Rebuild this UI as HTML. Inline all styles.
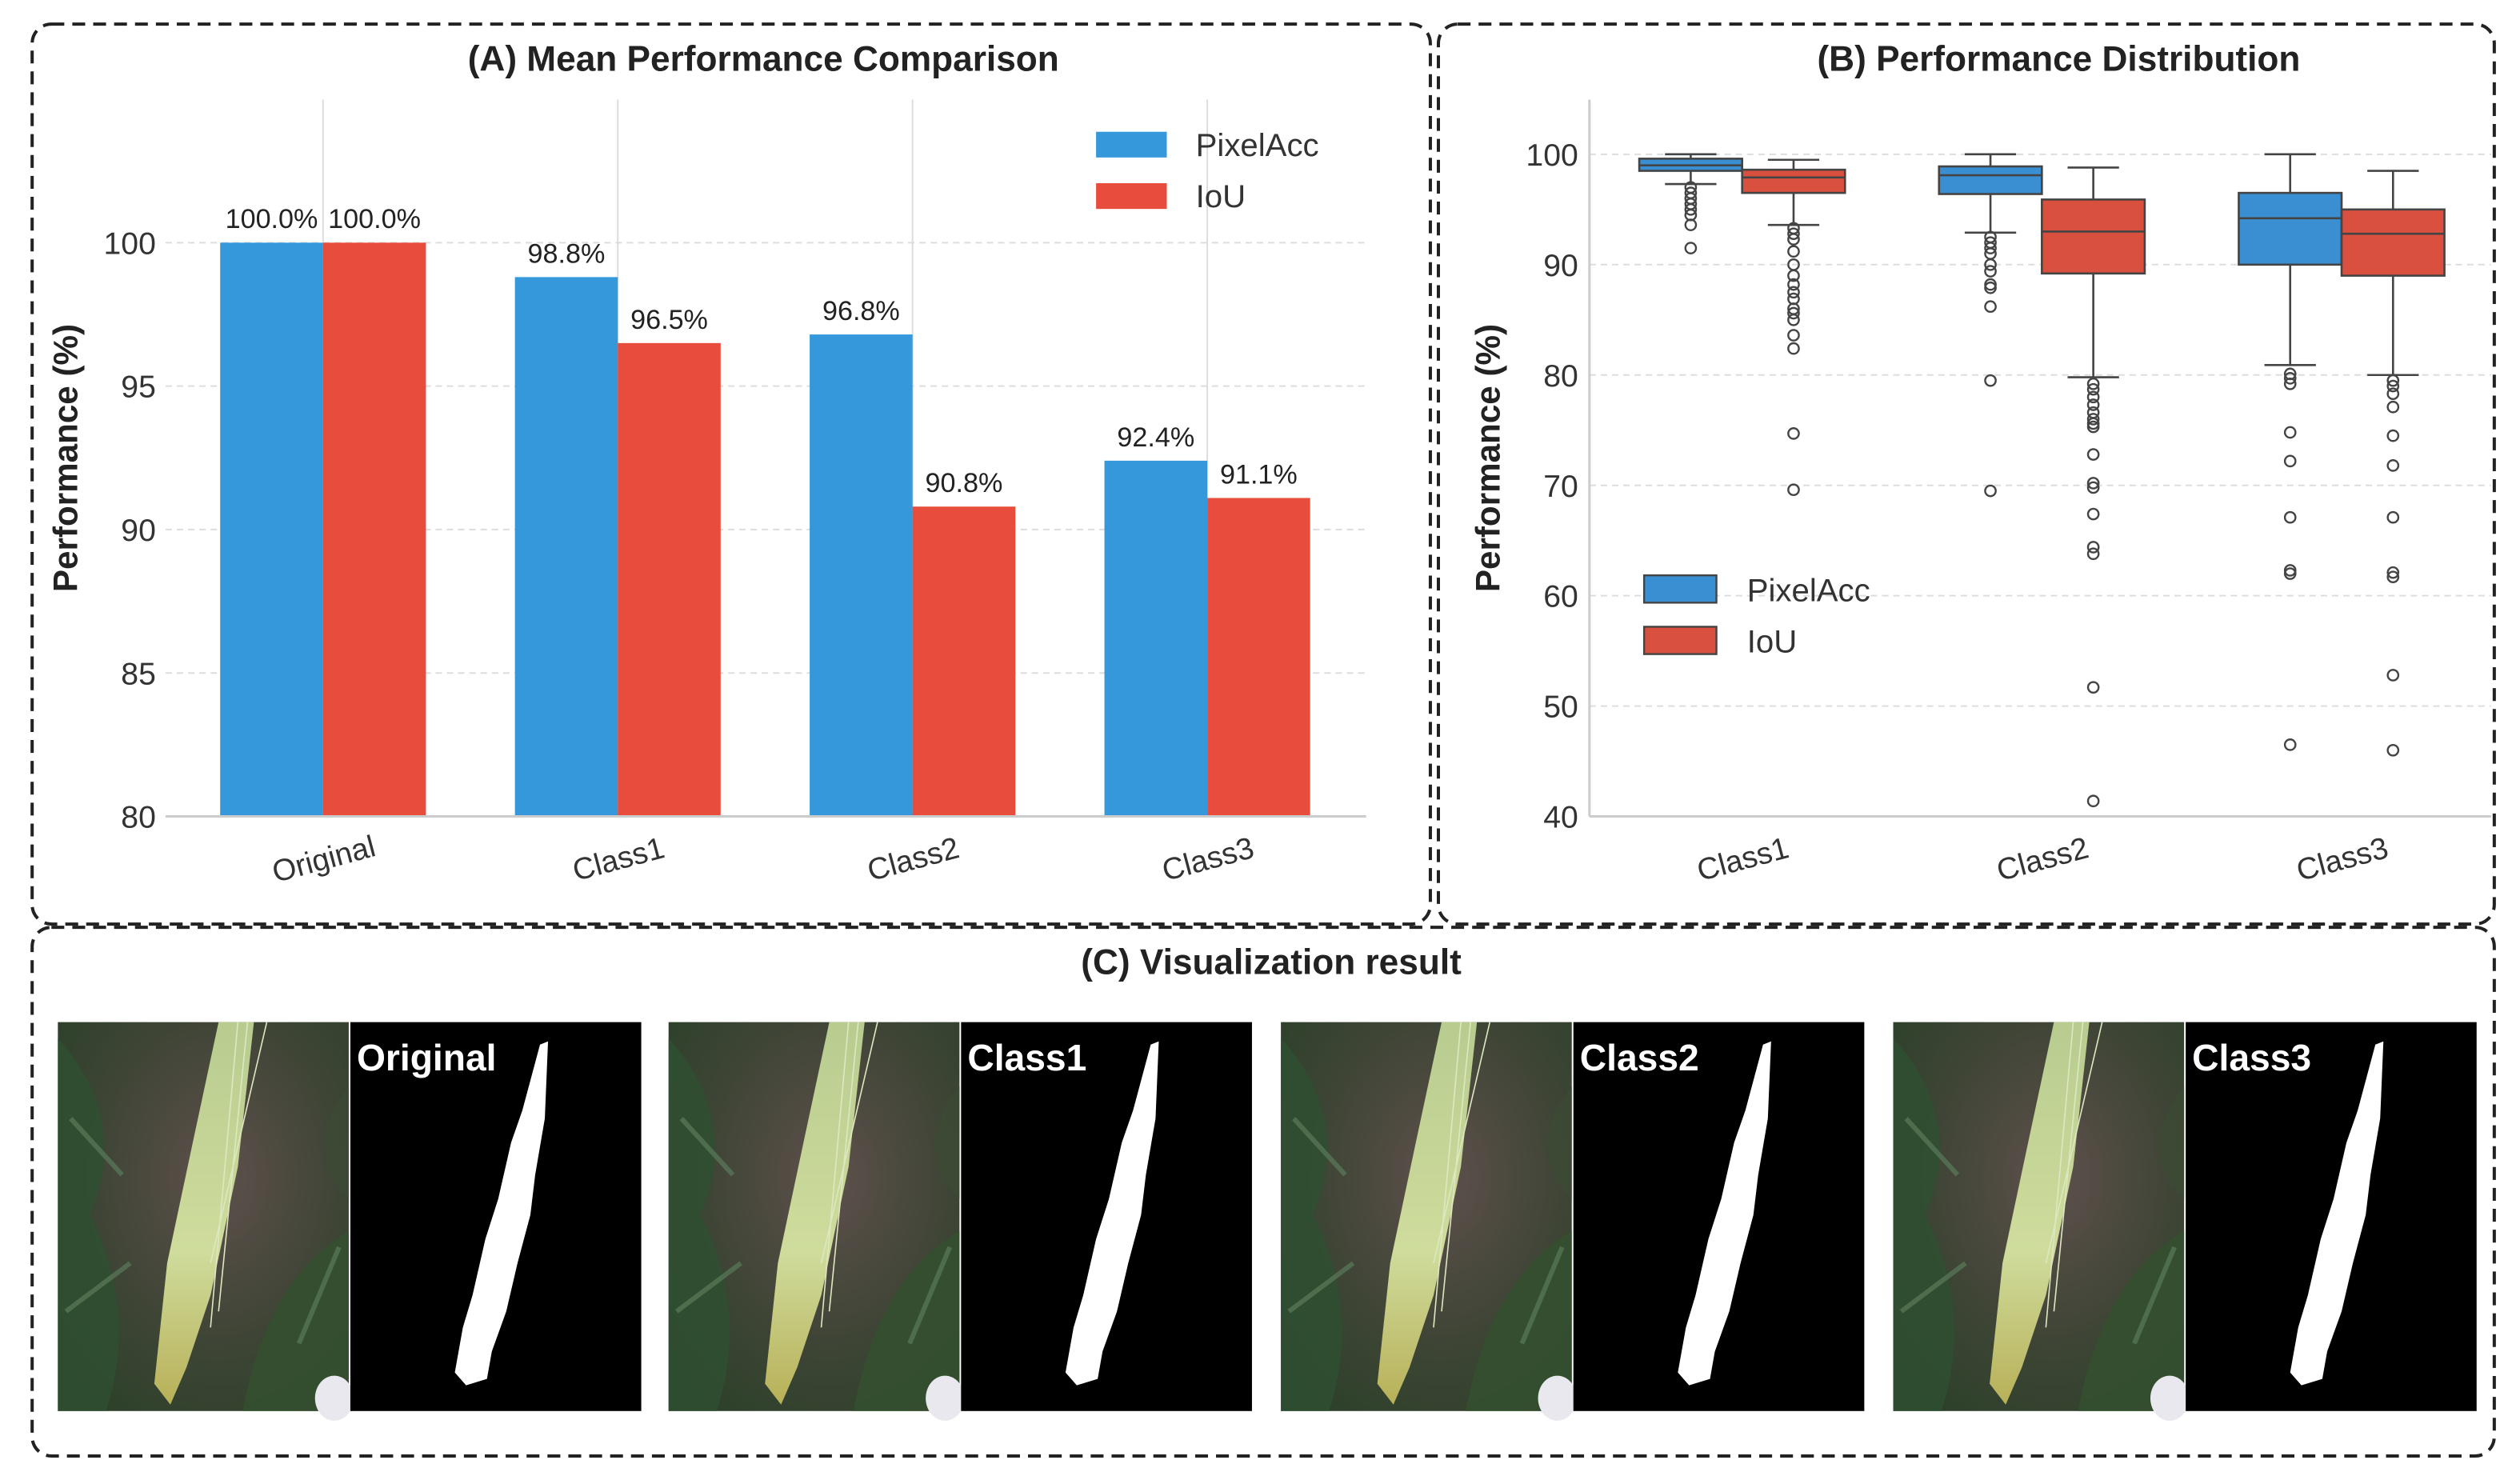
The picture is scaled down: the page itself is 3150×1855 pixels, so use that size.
<!DOCTYPE html>
<html><head><meta charset="utf-8">
<style>
html,body{margin:0;padding:0;background:#fff;}
svg{display:block;font-family:"Liberation Sans",Arial,sans-serif;}
</style></head>
<body>
<svg id="root" width="3150" height="1855" viewBox="0 0 1568 923.4" preserveAspectRatio="none" xmlns="http://www.w3.org/2000/svg">
<defs>
<radialGradient id="bgphoto" cx="55%" cy="40%" r="75%">
<stop offset="0" stop-color="#5e504c"/><stop offset="0.55" stop-color="#3f4536"/><stop offset="1" stop-color="#2a4028"/>
</radialGradient>
<linearGradient id="spike" x1="0" y1="0" x2="0" y2="1">
<stop offset="0" stop-color="#b8cc90"/><stop offset="0.6" stop-color="#cfdc9c"/><stop offset="1" stop-color="#b8b058"/>
</linearGradient>
</defs>
<g>
<rect x="20" y="15" width="870" height="560" rx="12" fill="none" stroke="#222" stroke-width="2" stroke-dasharray="8 5"/>
</g>
<g>
<rect x="895" y="15" width="657" height="560" rx="12" fill="none" stroke="#222" stroke-width="2" stroke-dasharray="8 5"/>
</g>
<g>
<rect x="20" y="577" width="1532" height="329" rx="12" fill="none" stroke="#222" stroke-width="2" stroke-dasharray="8 5"/>
</g>
<text x="475" y="44" text-anchor="middle" font-size="22" font-weight="bold" fill="#222">(A) Mean Performance Comparison</text>
<text x="1281" y="44" text-anchor="middle" font-size="22" font-weight="bold" fill="#222">(B) Performance Distribution</text>
<text x="791" y="606" text-anchor="middle" font-size="22" font-weight="bold" fill="#222">(C) Visualization result</text>
<g id="chartA"></g>
<g id="chartB"></g>
<g id="viz"></g>
</svg>
<script>
const NS="http://www.w3.org/2000/svg";
// ---- Chart A data ----
const barCategories=["Original","Class1","Class2","Class3"];
const pixelAccMeans=[100.0,98.8,96.8,92.4];
const iouMeans=[100.0,96.5,90.8,91.1];
const barTicks=[80,85,90,95,100];
// ---- Chart B data ----
const boxCategories=["Class1","Class2","Class3"];
// [lowWhisker,Q1,median,Q3,highWhisker]
const pixelAccBoxes=[[97.3,98.5,99.0,99.6,100],[92.9,96.4,98.1,98.9,100],[80.9,90.0,94.2,96.5,100]];
const iouBoxes=[[93.6,96.5,97.9,98.6,99.5],[79.8,89.2,93.0,95.9,98.8],[80.0,89.0,92.8,95.0,98.5]];
const pixelAccOutliers=[[97.0,96.5,96.0,95.5,95.0,94.5,93.6,91.5],[92.5,92.0,91.5,91.0,90.0,89.4,88.2,87.9,86.2,79.5,69.5],[80.1,79.7,79.2,74.8,72.2,67.1,62.3,62.0,46.5]];
const iouOutliers=[[93.3,92.8,92.3,91.2,90.0,89.0,88.2,87.5,86.9,86.0,85.6,85.0,83.6,82.4,74.7,69.6],[79.2,78.7,78.0,77.3,76.6,76.0,75.6,75.3,72.8,70.2,69.8,67.4,64.4,63.8,51.7,41.4],[79.5,79.0,78.3,77.1,74.5,71.8,67.1,62.1,61.7,52.8,46.0]];
const boxTicks=[40,50,60,70,80,90,100];
const vizLabels=["Original","Class1","Class2","Class3"];

function el(tag,attrs,parent,text){const e=document.createElementNS(NS,tag);for(const k in attrs)e.setAttribute(k,attrs[k]);if(text!==undefined)e.textContent=text;parent.appendChild(e);return e;}

// ---- Chart A ----
(function(){
const g=document.getElementById('chartA');
const x0=103,x1=850,yTop=62,yBot=508;
const yA=v=>508-(v-80)*17.85;
const xC=i=>201+i*183.4;
const bw=64;
barTicks.forEach(t=>{
 const gl=el('line',{x1:x0,x2:x1,y1:yA(t),y2:yA(t),stroke:'#ddd','stroke-width':1,'stroke-dasharray':'4 3'},g);
 
 const tl=el('text',{x:97,y:yA(t)+7,'text-anchor':'end','font-size':19.5,fill:'#333'},g,String(t));
 
});
barCategories.forEach((c,i)=>{
 const vl=el('line',{x1:xC(i),x2:xC(i),y1:yTop,y2:yBot,stroke:'#ddd','stroke-width':1},g);
 
});
barCategories.forEach((c,i)=>{
 const b1=el('rect',{x:xC(i)-bw,y:yA(pixelAccMeans[i]),width:bw,height:yBot-yA(pixelAccMeans[i]),fill:'#3498db'},g);
 
 const b2=el('rect',{x:xC(i),y:yA(iouMeans[i]),width:bw,height:yBot-yA(iouMeans[i]),fill:'#e74c3c'},g);
 
 const l1=el('text',{x:xC(i)-bw/2,y:yA(pixelAccMeans[i])-9,'text-anchor':'middle','font-size':17,fill:'#222'},g,pixelAccMeans[i].toFixed(1)+'%');
 
 const l2=el('text',{x:xC(i)+bw/2,y:yA(iouMeans[i])-9,'text-anchor':'middle','font-size':17,fill:'#222'},g,iouMeans[i].toFixed(1)+'%');
 
 const xl=el('text',{x:xC(i),y:541,'text-anchor':'middle','font-size':19,fill:'#333',transform:`rotate(-15 ${xC(i)} 533)`},g,c);
 
});
const ax=el('line',{x1:x0,x2:x1,y1:yBot,y2:yBot,stroke:'#ccc','stroke-width':1.5},g);

const yl=el('text',{x:48,y:285,'text-anchor':'middle','font-size':21,'font-weight':'bold',fill:'#222',transform:'rotate(-90 48 285)'},g,'Performance (%)');

const lg=el('g',{},g);
el('rect',{x:682,y:82,width:44,height:16,fill:'#3498db'},lg);
el('text',{x:744,y:97,'font-size':20,fill:'#333'},lg,'PixelAcc');
el('rect',{x:682,y:114,width:44,height:16,fill:'#e74c3c'},lg);
el('text',{x:744,y:129,'font-size':20,fill:'#333'},lg,'IoU');
})();

// ---- Chart B ----
(function(){
const g=document.getElementById('chartB');
const x0=989,x1=1550,yTop=62,yBot=508;
const yB=v=>96+(100-v)*6.867;
const xC=i=>1084+i*186.5;
const bw=64;
boxTicks.forEach(t=>{
 if(t>40){const gl=el('line',{x1:x0,x2:x1,y1:yB(t),y2:yB(t),stroke:'#ddd','stroke-width':1,'stroke-dasharray':'4 3'},g);
 }
 const tl=el('text',{x:982,y:yB(t)+7,'text-anchor':'end','font-size':19.5,fill:'#333'},g,String(t));
 
});
el('line',{x1:x0,x2:x0,y1:yTop,y2:yBot,stroke:'#ccc','stroke-width':1.5},g);
el('line',{x1:x0,x2:x1,y1:yBot,y2:yBot,stroke:'#ccc','stroke-width':1.5},g);
function drawBox(cx,s,outs,fill,name){
 const bg=el('g',{},g);
 
 
 const [lw,q1,md,q3,hw]=s;const xm=cx+bw/2;
 el('line',{x1:xm,x2:xm,y1:yB(hw),y2:yB(q3),stroke:'#444','stroke-width':1.3},bg);
 el('line',{x1:xm,x2:xm,y1:yB(q1),y2:yB(lw),stroke:'#444','stroke-width':1.3},bg);
 el('line',{x1:xm-16,x2:xm+16,y1:yB(hw),y2:yB(hw),stroke:'#444','stroke-width':1.3},bg);
 el('line',{x1:xm-16,x2:xm+16,y1:yB(lw),y2:yB(lw),stroke:'#444','stroke-width':1.3},bg);
 el('rect',{x:cx,y:yB(q3),width:bw,height:yB(q1)-yB(q3),fill:fill,stroke:'#444','stroke-width':1.3},bg);
 el('line',{x1:cx,x2:cx+bw,y1:yB(md),y2:yB(md),stroke:'#444','stroke-width':1.3},bg);
 outs.forEach(o=>{el('circle',{cx:xm,cy:yB(o),r:3.3,fill:'none',stroke:'#444','stroke-width':1.2},bg);});
}
boxCategories.forEach((c,i)=>{
 drawBox(xC(i)-bw,pixelAccBoxes[i],pixelAccOutliers[i],'#3a8fd2','box-pixelacc-'+c.toLowerCase());
 drawBox(xC(i),iouBoxes[i],iouOutliers[i],'#d9503f','box-iou-'+c.toLowerCase());
 const xl=el('text',{x:xC(i),y:541,'text-anchor':'middle','font-size':19,fill:'#333',transform:`rotate(-15 ${xC(i)} 533)`},g,c);
 
});
const yl=el('text',{x:933,y:285,'text-anchor':'middle','font-size':21,'font-weight':'bold',fill:'#222',transform:'rotate(-90 933 285)'},g,'Performance (%)');

const lg=el('g',{},g);
el('rect',{x:1023,y:358,width:45,height:17,fill:'#3a8fd2',stroke:'#444','stroke-width':1.2},lg);
el('text',{x:1087,y:374,'font-size':20,fill:'#333'},lg,'PixelAcc');
el('rect',{x:1023,y:390,width:45,height:17,fill:'#d9503f',stroke:'#444','stroke-width':1.2},lg);
el('text',{x:1087,y:406,'font-size':20,fill:'#333'},lg,'IoU');
})();

// ---- Visualization ----
(function(){
const g=document.getElementById('viz');
const xs=[36,416,797,1178];
vizLabels.forEach((lab,i)=>{
 const x=xs[i],y=636,w=181,h=242;
 const pg=el('g',{},g);
 
 
 el('rect',{x:x,y:y,width:w,height:h,fill:'url(#bgphoto)'},pg);
 el('path',{d:`M${x} ${y+10} Q${x+45} ${y+60} ${x+20} ${y+120} Q${x+50} ${y+180} ${x+30} ${y+h} L${x} ${y+h} Z`,fill:'#2f4f31',opacity:0.85},pg);
 el('path',{d:`M${x+w} ${y+130} Q${x+130} ${y+160} ${x+115} ${y+h} L${x+w} ${y+h} Z`,fill:'#34502f',opacity:0.85},pg);
 el('path',{d:`M${x+w} ${y+40} Q${x+150} ${y+80} ${x+w} ${y+110} Z`,fill:'#3c4a34',opacity:0.8},pg);
 el('path',{d:`M${x+8} ${y+60} L${x+40} ${y+95} M${x+5} ${y+180} L${x+45} ${y+150} M${x+150} ${y+200} L${x+175} ${y+140}`,stroke:'#5a7a5a','stroke-width':3,fill:'none',opacity:0.7},pg);
 el('path',{d:`M${x+100} ${y} L${x+122} ${y} L${x+112} ${y+90} L${x+95} ${y+170} L${x+80} ${y+215} L${x+70} ${y+238} L${x+60} ${y+225} L${x+68} ${y+150} L${x+85} ${y+70} Z`,fill:'url(#spike)'},pg);
 el('path',{d:`M${x+112} ${y} L${x+95} ${y+190} M${x+118} ${y} L${x+100} ${y+180} M${x+130} ${y} L${x+95} ${y+150}`,stroke:'#dde8c0','stroke-width':0.8,fill:'none'},pg);
 el('ellipse',{cx:x+172,cy:y+h-8,rx:12,ry:14,fill:'#e8e8ee'},pg);
 const mx=x+w+1;
 const mg=el('g',{},g);
 
 
 el('rect',{x:mx,y:y,width:w,height:h,fill:'#000'},mg);
 el('path',{d:`M${mx+118} ${y+14} L${mx+123} ${y+12} L${mx+121} ${y+60} L${mx+115} ${y+95} L${mx+112} ${y+120} L${mx+104} ${y+150} L${mx+97} ${y+180} L${mx+88} ${y+205} L${mx+85} ${y+222} L${mx+72} ${y+226} L${mx+65} ${y+218} L${mx+70} ${y+190} L${mx+76} ${y+170} L${mx+84} ${y+135} L${mx+92} ${y+110} L${mx+100} ${y+75} L${mx+107} ${y+55} Z`,fill:'#fff'},mg);
 const t=el('text',{x:mx+4,y:y+30,'font-size':23,'font-weight':'bold',fill:'#fff'},mg,lab);
 
});
})();
</script>
</body></html>
